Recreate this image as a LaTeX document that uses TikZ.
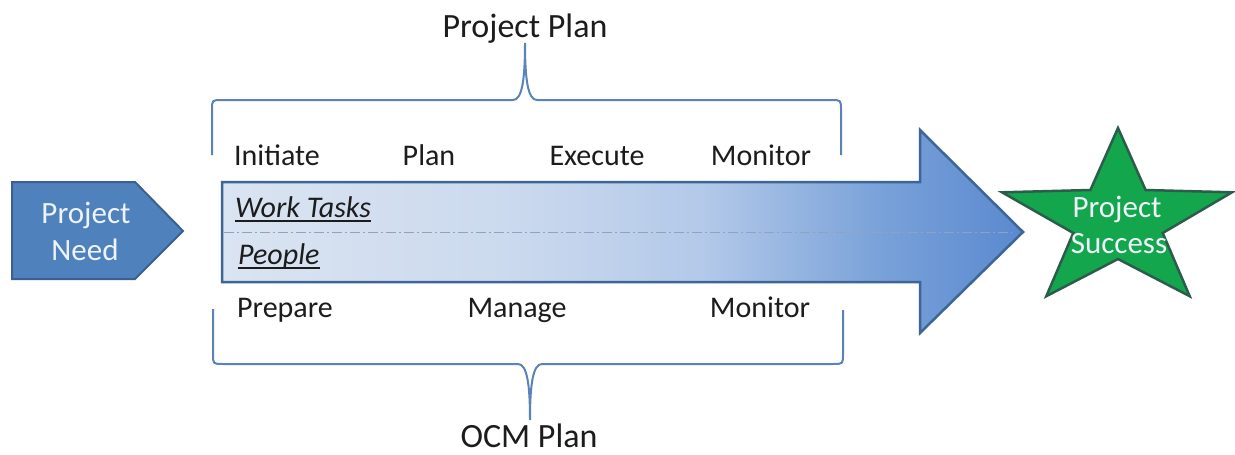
\documentclass[tikz,border=0pt]{standalone}
\usepackage{fontspec}
\setmainfont{Carlito}

\definecolor{needfill}{HTML}{4F81BD}
\definecolor{needline}{HTML}{3A6091}
\definecolor{arrowline}{HTML}{3D6596}
\definecolor{bracecol}{HTML}{5A83B8}
\definecolor{starfill}{HTML}{14A64C}
\definecolor{starline}{HTML}{2B5C4C}
\definecolor{inktext}{HTML}{1C1C1C}
\definecolor{lighttext}{HTML}{EEF3FA}
\definecolor{midline}{HTML}{8FA3BF}

\definecolor{gA}{HTML}{DAE4F2}
\definecolor{gB}{HTML}{CCDAEE}
\definecolor{gC}{HTML}{B3C9E9}
\definecolor{gD}{HTML}{7AA2D9}
\definecolor{gE}{HTML}{5A89D0}

% left-to-right fill of the long arrow (25bp..75bp spans the path)
\pgfdeclarehorizontalshading{flowshade}{100bp}{%
  color(0bp)=(gA); color(25bp)=(gA); color(42.5bp)=(gB);
  color(55bp)=(gC); color(66bp)=(gD); color(75bp)=(gE); color(100bp)=(gE)}

\tikzset{
  lbl/.style={inner sep=0pt, anchor=base, text=inktext,
              font=\fontsize{30}{36}\selectfont},
  title/.style={lbl, font=\fontsize{34}{40}\selectfont},
  lightlbl/.style={lbl, text=lighttext, font=\fontsize{31}{37}\selectfont},
  itlbl/.style={lbl, anchor=base west, font=\fontsize{30}{36}\selectfont\itshape},
  brace/.style={draw=bracecol, line width=2pt},
  uline/.style={draw=inktext, line width=1.8pt}
}

\begin{document}
\begin{tikzpicture}[x=1pt, y=-1pt]
\useasboundingbox[fill=white] (0,0) rectangle (1235,455);

% input pentagon
\draw[fill=needfill, draw=needline, line width=2pt, line join=miter]
  (12,182) -- (135,182) -- (183,231) -- (135,279) -- (12,279) -- cycle;
\node[lightlbl] (need1) at (86,223) {Project};
\node[lightlbl] (need2) at (85,260) {Need};

% long shaded arrow
\draw[shading=flowshade, draw=arrowline, line width=2.5pt, line join=miter]
  (222,182) -- (920,182) -- (920,130) -- (1023,232) -- (920,333)
  -- (920,282) -- (222,282) -- cycle;
\draw[midline, line width=1pt, dash pattern=on 10pt off 3pt on 2pt off 3pt]
  (224,232) -- (1012,232);

\node[itlbl] (work) at (235,217) {Work Tasks};
\node[itlbl] (people) at (238,264) {People};
\draw[uline] ([yshift=-4pt]work.base west) -- ([yshift=-4pt]work.base east);
\draw[uline] ([yshift=-4pt]people.base west) -- ([yshift=-4pt]people.base east);

% success star
\draw[fill=starfill, draw=starline, line width=2.5pt, line join=miter]
  (1118,128) -- (1145.6,190) -- (1232,192.3) -- (1162.7,233) -- (1189.7,296.2)
  -- (1118,259) -- (1046.3,296.2) -- (1073.3,233) -- (1002,192.3)
  -- (1090.4,190) -- cycle;
\node[lightlbl] (succ1) at (1117,217) {Project};
\node[lightlbl] (succ2) at (1119,253) {Success};

% upper brace
\draw[brace]
  (212,155) -- (212,110) .. controls (212,100) .. (222,100) -- (513,100)
  .. controls (522,100) and (525,80) .. (525,43)
  .. controls (525,80) and (528,100) .. (537,100) -- (831,100)
  .. controls (841,100) .. (841,110) -- (841,155);
\node[title] (pplan) at (525,37) {Project Plan};

\node[lbl] (initiate) at (277,165) {Initiate};
\node[lbl] (plan) at (429,165) {Plan};
\node[lbl] (execute) at (597,165) {Execute};
\node[lbl] (monitorA) at (761,165) {Monitor};

% lower brace
\draw[brace]
  (213,309) -- (213,354) .. controls (213,364) .. (223,364) -- (518,364)
  .. controls (527,364) and (530,384) .. (530,420)
  .. controls (530,384) and (533,364) .. (542,364) -- (833,364)
  .. controls (843,364) .. (843,354) -- (843,310);
\node[title] (ocm) at (529,447) {OCM Plan};

\node[lbl] (prepare) at (285,317) {Prepare};
\node[lbl] (manage) at (517,317) {Manage};
\node[lbl] (monitorB) at (760,317) {Monitor};
\end{tikzpicture}
\end{document}
